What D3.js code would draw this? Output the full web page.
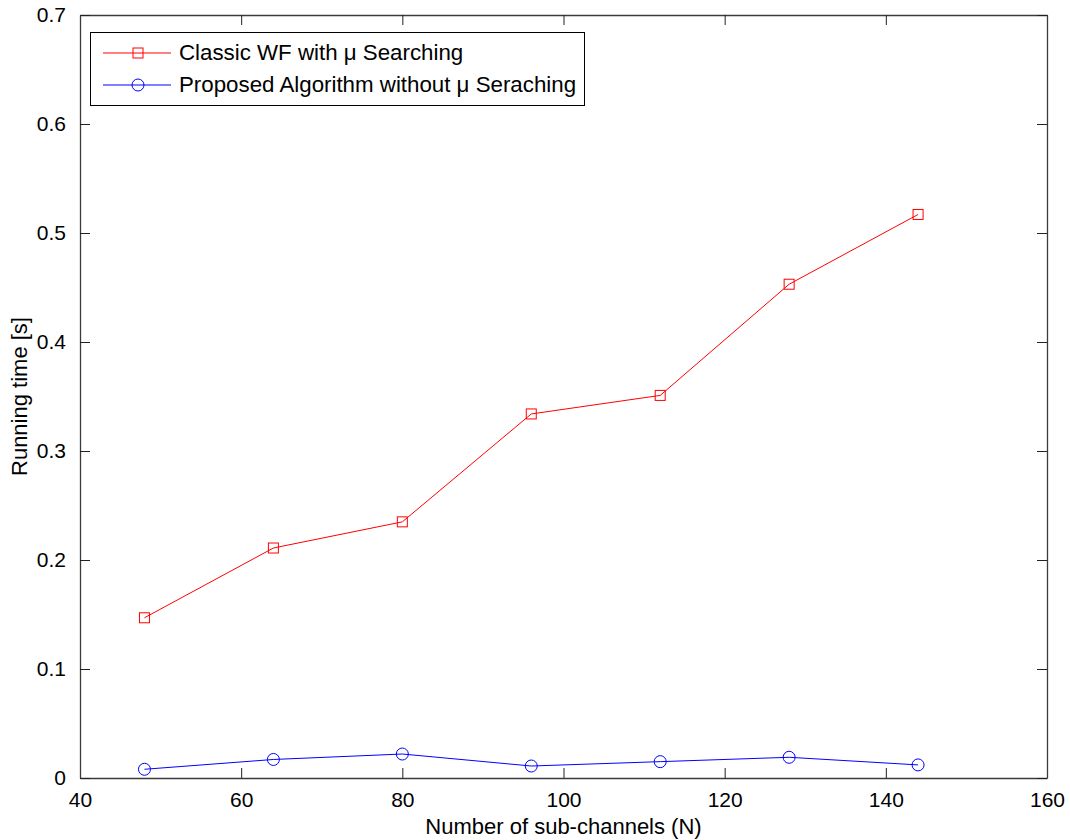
<!DOCTYPE html>
<html>
<head>
<meta charset="utf-8">
<script src="https://cdn.jsdelivr.net/npm/d3@7"></script>
<style>
  body { margin: 0; background: #fff; }
  text { font-family: "Liberation Sans", Arial, sans-serif; }
</style>
</head>
<body>
<svg></svg>
<script>
var subChannels = [48, 64, 80, 96, 112, 128, 144];
var classicWF = [0.147, 0.211, 0.235, 0.334, 0.351, 0.453, 0.517];
var proposed = [0.008, 0.017, 0.022, 0.011, 0.015, 0.019, 0.012];
var xTicks = [40, 60, 80, 100, 120, 140, 160];
var yTicks = [0, 0.1, 0.2, 0.3, 0.4, 0.5, 0.6, 0.7];
var seriesNames = ["Classic WF with \u03bc Searching", "Proposed Algorithm without \u03bc Seraching"];

var svgWidth = 1070, svgHeight = 840;
var plotLeft = 80, plotRight = 1047, plotTop = 15, plotBottom = 778;

var svg = d3.select("svg")
            .attr("width", svgWidth)
            .attr("height", svgHeight);

var x = d3.scaleLinear().domain([40, 160]).range([plotLeft, plotRight]);
var y = d3.scaleLinear().domain([0, 0.7]).range([plotBottom, plotTop]);

// axes with inward ticks, matlab style box
var fmt = function(d) { return d === 0 ? "0" : String(d); };
var tickLen = 10;

svg.append("g")
   .attr("transform", "translate(0," + plotBottom + ")")
   .call(d3.axisBottom(x).tickValues(xTicks).tickSizeInner(-tickLen).tickSizeOuter(0).tickPadding(14).tickFormat(fmt));
svg.append("g")
   .attr("transform", "translate(0," + plotTop + ")")
   .call(d3.axisTop(x).tickValues(xTicks).tickSizeInner(-tickLen).tickSizeOuter(0).tickFormat(""));
svg.append("g")
   .attr("transform", "translate(" + plotLeft + ",0)")
   .call(d3.axisLeft(y).tickValues(yTicks).tickSizeInner(-tickLen).tickSizeOuter(0).tickPadding(14).tickFormat(fmt));
svg.append("g")
   .attr("transform", "translate(" + plotRight + ",0)")
   .call(d3.axisRight(y).tickValues(yTicks).tickSizeInner(-tickLen).tickSizeOuter(0).tickFormat(""));

svg.selectAll(".domain").attr("stroke", "#3a3a3a").attr("stroke-width", 1.3);
svg.selectAll(".tick line").attr("stroke", "#222");
svg.selectAll(".tick text").attr("font-size", 21).attr("fill", "#000")
   .attr("font-family", "'Liberation Sans', Arial, sans-serif");

// axis labels
svg.append("text")
   .attr("x", (plotLeft + plotRight) / 2).attr("y", 834)
   .attr("text-anchor", "middle").attr("font-size", 22)
   .text("Number of sub-channels (N)");
svg.append("text")
   .attr("transform", "translate(27," + ((plotTop + plotBottom) / 2) + ") rotate(-90)")
   .attr("text-anchor", "middle").attr("font-size", 22)
   .text("Running time [s]");

var line = d3.line()
             .x(function(d, i) { return x(subChannels[i]); })
             .y(function(d) { return y(d); });

// red series
svg.append("path").datum(classicWF)
   .attr("d", line).attr("fill", "none").attr("stroke", "#ff0000").attr("stroke-width", 1);
svg.selectAll(".sq").data(classicWF).enter().append("rect")
   .attr("class", "sq")
   .attr("x", function(d, i) { return x(subChannels[i]) - 5; })
   .attr("y", function(d) { return y(d) - 5; })
   .attr("width", 10).attr("height", 10)
   .attr("fill", "none").attr("stroke", "#ff0000");

// blue series
svg.append("path").datum(proposed)
   .attr("d", line).attr("fill", "none").attr("stroke", "#0000ff").attr("stroke-width", 1);
svg.selectAll(".circ").data(proposed).enter().append("circle")
   .attr("class", "circ")
   .attr("cx", function(d, i) { return x(subChannels[i]); })
   .attr("cy", function(d) { return y(d); })
   .attr("r", 6)
   .attr("fill", "none").attr("stroke", "#0000ff");

// legend
var legend = svg.append("g");
legend.append("rect")
      .attr("x", 90.5).attr("y", 32.5).attr("width", 494).attr("height", 73)
      .attr("fill", "#fff").attr("stroke", "#000");
var rowY = [53, 85];
var colors = ["#ff0000", "#0000ff"];
seriesNames.forEach(function(name, i) {
  legend.append("line")
        .attr("x1", 103).attr("x2", 171).attr("y1", rowY[i]).attr("y2", rowY[i])
        .attr("stroke", colors[i]);
  if (i === 0) {
    legend.append("rect").attr("x", 133).attr("y", rowY[i] - 5).attr("width", 10).attr("height", 10)
          .attr("fill", "none").attr("stroke", colors[i]);
  } else {
    legend.append("circle").attr("cx", 138).attr("cy", rowY[i]).attr("r", 6)
          .attr("fill", "none").attr("stroke", colors[i]);
  }
  legend.append("text")
        .attr("x", 179).attr("y", rowY[i] + 7).attr("font-size", 22.3)
        .text(name);
});
</script>
</body>
</html>
